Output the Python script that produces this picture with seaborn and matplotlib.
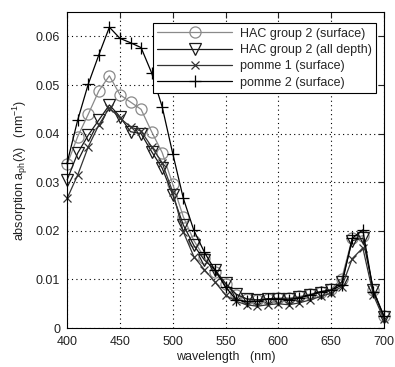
import numpy as np
import pandas as pd
import matplotlib
matplotlib.use("Agg")
import matplotlib.pyplot as plt
import seaborn as sns

wavelength = list(range(400, 701, 10))

hac_surface = [0.0337, 0.0394, 0.0440, 0.0488, 0.0519, 0.0480, 0.0465, 0.0450, 0.0404, 0.0361,
               0.0296, 0.0229, 0.0180, 0.0145, 0.0115, 0.0090, 0.0068, 0.0060, 0.0058, 0.0060,
               0.0062, 0.0062, 0.0065, 0.0070, 0.0075, 0.0080, 0.0102, 0.0185, 0.0190, 0.0078, 0.0025]
hac_all = [0.0305, 0.0360, 0.0397, 0.0428, 0.0459, 0.0435, 0.0404, 0.0400, 0.0363, 0.0329,
           0.0274, 0.0212, 0.0170, 0.0140, 0.0120, 0.0092, 0.0070, 0.0060, 0.0058, 0.0060,
           0.0060, 0.0060, 0.0063, 0.0068, 0.0073, 0.0078, 0.0095, 0.0180, 0.0185, 0.0078, 0.0022]
pomme1 = [0.0267, 0.0315, 0.0373, 0.0418, 0.0453, 0.0432, 0.0414, 0.0405, 0.0373, 0.0340,
          0.0280, 0.0198, 0.0147, 0.0120, 0.0095, 0.0068, 0.0055, 0.0048, 0.0045, 0.0048,
          0.0050, 0.0048, 0.0052, 0.0058, 0.0065, 0.0072, 0.0085, 0.0143, 0.0165, 0.0068, 0.0018]
pomme2 = [0.0340, 0.0428, 0.0502, 0.0562, 0.0619, 0.0596, 0.0587, 0.0577, 0.0525, 0.0455,
          0.0359, 0.0267, 0.0201, 0.0156, 0.0119, 0.0085, 0.0058, 0.0055, 0.0055, 0.0060,
          0.0060, 0.0058, 0.0062, 0.0068, 0.0075, 0.0078, 0.0088, 0.0185, 0.0202, 0.0075, 0.0025]

labels = ["HAC group 2 (surface)", "HAC group 2 (all depth)", "pomme 1 (surface)", "pomme 2 (surface)"]
x_ticks = [400, 450, 500, 550, 600, 650, 700]
y_ticks = [0, 0.01, 0.02, 0.03, 0.04, 0.05, 0.06]
y_tick_labels = ["0", "0.01", "0.02", "0.03", "0.04", "0.05", "0.06"]

sns.set_theme(style="white")
plt.rcParams['font.family'] = ['Liberation Sans', 'DejaVu Sans']
plt.rcParams['mathtext.fontset'] = 'custom'
plt.rcParams['mathtext.rm'] = 'Liberation Sans'
plt.rcParams['mathtext.it'] = 'Liberation Sans'

fig = plt.figure(figsize=(3.95, 3.67), dpi=100)
ax = fig.add_axes([0.170, 0.106, 0.802, 0.861])

styles = [
    dict(marker="o", color="#8a8a8a", ms=8, mew=0.9),
    dict(marker="v", color="#1a1a1a", ms=8, mew=0.9),
    dict(marker="x", color="#333333", ms=6, mew=0.9),
    dict(marker="+", color="#000000", ms=9, mew=0.9),
]
series = [hac_surface, hac_all, pomme1, pomme2]

for vals, lab, st in zip(series, labels, styles):
    df = pd.DataFrame({"wavelength": wavelength, "value": vals})
    sns.lineplot(data=df, x="wavelength", y="value", ax=ax, color=st["color"],
                 marker=st["marker"], markersize=st["ms"], markeredgewidth=st["mew"],
                 markerfacecolor="none", markeredgecolor=st["color"],
                 linewidth=0.9, label=lab, clip_on=False)

ax.set_xlim(400, 700)
ax.set_ylim(0, 0.065)
ax.set_xticks(x_ticks)
ax.set_yticks(y_ticks)
ax.set_yticklabels(y_tick_labels)
ax.tick_params(direction="in", length=4, width=0.8, labelsize=9, colors="#222222",
               top=True, right=True, pad=4)
ax.tick_params(axis="x", pad=6)
ax.tick_params(axis="y", pad=5)
ax.grid(True, linestyle=(0, (1, 3)), color="#000000", linewidth=0.8)
for sp in ax.spines.values():
    sp.set_color("#000000")
    sp.set_linewidth(0.8)
    sp.set_zorder(5)

ax.set_xlabel("wavelength   (nm)", fontsize=9, color="#222222", labelpad=2)
ax.set_ylabel(r"absorption a$_{\rm ph}$(λ)   (nm$^{-1}$)", fontsize=9, color="#222222", labelpad=4)

leg = ax.legend(loc="upper right", bbox_to_anchor=(0.975, 0.965), fontsize=9,
                handlelength=6.0, frameon=True, fancybox=False, borderpad=0.35,
                labelspacing=0.35, handletextpad=0.6, borderaxespad=0)
leg.get_frame().set_edgecolor("#000000")
leg.get_frame().set_linewidth(0.8)
leg.get_frame().set_alpha(1)
leg.set_zorder(10)

fig.savefig("out.png", dpi=100, facecolor="white")
